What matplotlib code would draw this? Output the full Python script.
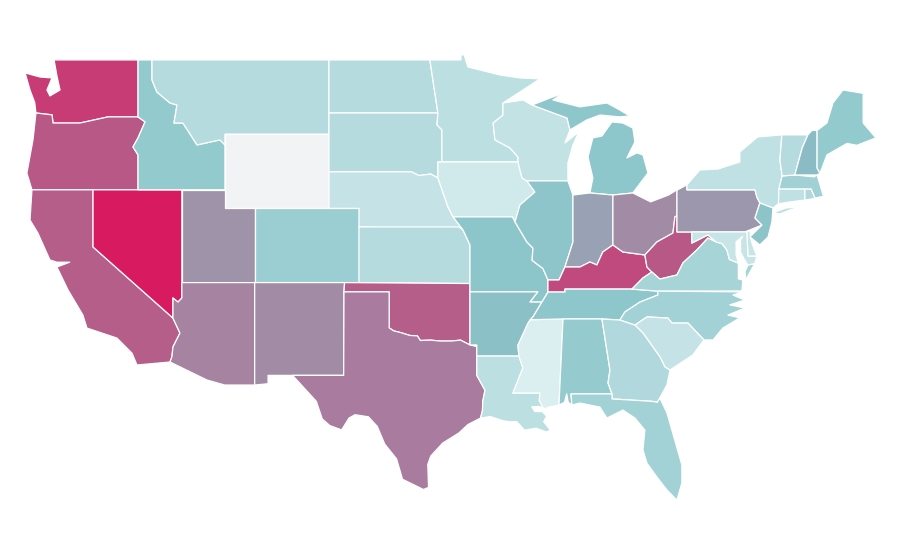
import numpy as np
import matplotlib
matplotlib.use('Agg')
import matplotlib.pyplot as plt
from matplotlib.colors import LinearSegmentedColormap

STATES = ['WA', 'OR', 'CA', 'NV', 'ID', 'MT', 'WY', 'UT', 'AZ', 'CO', 'NM', 'ND', 'SD', 'NE', 'KS', 'OK',
          'TX', 'MN', 'IA', 'MO', 'AR', 'LA', 'WI', 'IL', 'MS', 'MI', 'IN', 'KY', 'TN', 'AL', 'OH', 'WV',
          'VA', 'NC', 'SC', 'GA', 'FL', 'PA', 'NY', 'NJ', 'DE', 'MD', 'CT', 'RI', 'MA', 'VT', 'NH', 'ME']
VALUES = [.90, .82, .80, 1.0, .28, .16, np.nan, .57, .66, .25, .60, .16, .16, .10, .16, .80,
          .70, .13, .06, .31, .37, .13, .11, .32, .02, .30, .50, .86, .30, .27, .60, .82,
          .21, .22, .10, .17, .22, .55, .12, .33, .09, .09, .12, .17, .23, .16, .40, .28]
NO_DATA = '#f2f3f5'

# colour ramp
RAMP = [(0, '#e0f1f3'), (.3, '#8dc7cb'), (.42, '#8bbac4'), (.5, '#99a2b4'), (.6, '#a28ca5'),
        (.7, '#a97d9f'), (.82, '#b85886'), (1, '#d81b60')]

# shared borders, lon/lat
MN_WI = [(-92.34, 46.68), (-92.34, 46.03), (-93.0, 45.6), (-92.88, 44.69), (-91.87, 44.26), (-91.33, 43.77),
         (-91.33, 43.5)]
IA_WI = [(-91.33, 43.5), (-91.06, 42.64), (-90.73, 42.48)]
IA_IL = [(-90.73, 42.48), (-90.19, 41.88), (-91.2, 41.18), (-91.53, 40.27)]
MO_IL = [(-91.53, 40.27), (-90.73, 39.19), (-90.32, 38.86), (-90.38, 38.2), (-89.65, 37.76), (-89.31, 37.14)]
KY_MO = [(-89.31, 37.14), (-89.31, 36.49)]
TN_MO = [(-89.31, 36.49), (-89.72, 35.95)]
TN_AR = [(-89.72, 35.95), (-90.32, 35.15), (-90.5, 35.0)]
MS_AR = [(-90.5, 35.0), (-90.66, 34.8), (-91.33, 33.63), (-91.27, 33.04)]
MS_LA = [(-91.27, 33.04), (-91.0, 32.4), (-91.67, 31.05), (-89.85, 31.05), (-89.9, 30.65), (-89.6, 30.2)]
IL_KY = [(-89.31, 37.14), (-89.18, 37.14), (-88.57, 37.14), (-88.17, 37.84)]
IL_IN = [(-88.17, 37.84), (-87.63, 39.19), (-87.63, 41.72)]
IN_KY = [(-88.17, 37.84), (-87.16, 37.84), (-86.49, 38.11), (-86.02, 37.95), (-85.62, 38.65), (-84.94, 39.03)]
OH_KY = [(-84.94, 39.03), (-84.27, 38.65), (-82.79, 38.49)]
OH_WV = [(-82.79, 38.49), (-81.98, 39.19), (-80.9, 39.67), (-80.77, 40.54), (-80.63, 40.6)]
KY_WV = [(-82.79, 38.49), (-82.65, 37.84), (-82.32, 37.57)]
KY_VA = [(-83.66, 36.65), (-82.92, 37.25), (-82.32, 37.57)]
WV_VA = [(-82.32, 37.57), (-81.78, 37.19), (-80.63, 37.41), (-80.23, 38.06), (-79.29, 38.76), (-78.55, 39.4),
         (-78.0, 39.19)]
WV_MD = [(-78.0, 39.19), (-78.55, 39.57), (-79.63, 39.13), (-79.63, 39.73)]
TN_NC = [(-81.92, 36.54), (-81.92, 36.33), (-83.12, 35.95), (-84.13, 35.42), (-84.47, 34.98)]
NC_SC = [(-83.46, 34.71), (-82.65, 35.15), (-81.24, 35.09), (-80.97, 34.82), (-79.89, 34.82), (-78.82, 33.91)]
SC_GA = [(-81.1, 32.29), (-81.44, 32.45), (-81.78, 33.0), (-82.92, 34.28), (-83.46, 34.71)]
GA_FL = [(-81.78, 30.78), (-81.95, 30.55), (-82.3, 30.6), (-85.0, 30.73)]
AL_GA = [(-85.0, 31.0), (-85.27, 31.59), (-85.14, 32.29), (-85.68, 35.04)]
RED_RIVER = [(-100.0, 34.56), (-99.7, 34.4), (-99.2, 34.3), (-98.6, 34.15), (-98.1, 34.13), (-97.9, 33.88),
             (-97.2, 33.9), (-96.6, 33.85), (-95.8, 33.85), (-95.2, 33.9), (-94.56, 33.64)]
LA_TX = [(-94.1, 33.04), (-94.1, 32.0), (-93.55, 31.2), (-93.7, 30.6), (-93.72, 30.1), (-93.85, 29.7)]
OR_ID = [(-116.9, 45.93), (-116.43, 45.66), (-116.9, 44.8), (-117.24, 44.31), (-116.9, 43.88), (-116.9, 42.0)]
WA_OR = [(-123.77, 46.14), (-122.69, 46.04), (-122.62, 45.6), (-121.95, 45.6), (-120.81, 45.6), (-118.92, 45.93),
         (-116.9, 45.93)]
ID_MT = [(-115.96, 49.0), (-115.96, 47.92), (-115.63, 47.27), (-114.75, 46.68), (-114.28, 46.57), (-114.48, 45.6),
         (-113.88, 45.6), (-112.93, 44.42), (-111.39, 44.69), (-111.05, 44.42)]
CA_AZ = [(-114.55, 35.09), (-114.08, 34.28), (-114.55, 33.53), (-114.62, 33.0), (-114.75, 32.72)]
NV_AZ = [(-113.95, 37.0), (-113.95, 36.17), (-114.21, 35.95), (-114.55, 36.17), (-114.55, 35.09)]
ND_MN = [(-97.26, 49.0), (-96.78, 46.47), (-96.72, 46.14)]
SD_MN = [(-96.72, 46.14), (-96.78, 45.5), (-96.45, 45.23), (-96.45, 43.5)]
SD_IA = [(-96.45, 43.5), (-96.72, 43.5), (-96.72, 42.64)]
SD_NE = [(-96.72, 42.64), (-97.2, 42.85), (-98.0, 42.77), (-98.5, 42.97), (-104.05, 42.97)]
NE_IA = [(-96.72, 42.64), (-96.04, 41.08), (-95.7, 40.54)]
NE_MO = [(-95.7, 40.54), (-95.03, 39.84)]
KS_MO = [(-95.03, 39.84), (-94.56, 39.03), (-94.56, 36.95)]
PA_NJ = [(-75.05, 41.29), (-75.38, 40.48), (-74.91, 40.1), (-76.06, 39.73)]
VT_NH = [(-71.82, 44.96), (-72.2, 44.26), (-72.7, 42.8)]
NY_VT = [(-73.57, 44.96), (-73.7, 43.6), (-73.55, 42.75)]
NH_ME = [(-71.2, 45.2), (-71.2, 43.17), (-71.0, 42.9)]


def rev(border):
    return border[::-1]


OUTLINES = {
    'WA': [[(-122.55, 49.0), (-116.9, 49.0)] + rev(WA_OR) +
           [(-123.85, 46.7), (-124.17, 47.38), (-124.5, 48.3), (-123.5, 48.08), (-122.69, 48.03), (-123.03, 47.38),
            (-122.83, 47.06), (-122.15, 47.38), (-122.36, 48.14), (-122.49, 48.73)]],
    'OR': [WA_OR + OR_ID + [(-124.04, 42.0), (-124.38, 42.9), (-123.97, 44.69)]],
    'CA': [[(-124.04, 42.0), (-119.93, 42.0), (-119.93, 38.92)] + CA_AZ +
           [(-116.97, 32.56), (-117.31, 33.2), (-118.32, 34.01), (-120.34, 34.55), (-120.61, 35.25), (-121.61, 36.6),
            (-122.36, 37.84), (-121.5, 38.1), (-122.36, 38.1), (-122.83, 38.22), (-123.64, 39.67), (-124.17, 40.37)]],
    'NV': [[(-119.93, 42.0), (-113.95, 42.0)] + NV_AZ + [(-119.93, 38.92)]],
    'ID': [[(-116.9, 49.0)] + ID_MT + [(-111.05, 42.0)] + rev(OR_ID)],
    'MT': [[(-115.96, 49.0), (-104.05, 49.0), (-104.05, 45.0), (-111.05, 45.0)] + rev(ID_MT)[:-1]],
    'WY': [[(-111.05, 45.0), (-104.05, 45.0), (-104.05, 41.0), (-111.05, 41.0)]],
    'UT': [[(-113.95, 42.0), (-111.05, 42.0), (-111.05, 41.0), (-109.05, 41.0), (-109.05, 37.0), (-113.95, 37.0)]],
    'AZ': [[(-113.95, 37.0), (-109.05, 37.0), (-109.05, 31.48), (-111.07, 31.48), (-112.26, 31.75)] + rev(CA_AZ) +
           rev(NV_AZ)],
    'CO': [[(-109.05, 41.0), (-102.03, 41.0), (-102.03, 37.0), (-109.05, 37.0)]],
    'NM': [[(-109.05, 37.0), (-103.0, 37.0), (-103.04, 36.5), (-103.06, 32.0), (-106.5, 32.0), (-108.15, 32.0),
            (-108.15, 31.55), (-109.05, 31.48)]],
    'ND': [[(-104.05, 49.0)] + ND_MN + [(-104.05, 46.14)]],
    'SD': [[(-104.05, 46.14)] + SD_MN + SD_IA + SD_NE],
    'NE': [[(-104.05, 42.97)] + rev(SD_NE) + NE_IA + NE_MO + [(-102.03, 40.0), (-102.03, 41.0), (-104.05, 41.0)]],
    'KS': [[(-102.03, 40.0), (-95.3, 40.0)] + KS_MO + [(-102.03, 37.0)]],
    'OK': [[(-103.0, 37.0), (-94.56, 36.95), (-94.56, 35.9)] + rev(RED_RIVER) + [(-100.0, 36.5), (-103.04, 36.5)]],
    'TX': [[(-103.04, 36.5), (-100.0, 36.5)] + RED_RIVER + [(-94.1, 33.55)] + LA_TX +
           [(-94.7, 29.35), (-95.3, 28.9), (-96.4, 28.35), (-97.2, 27.65), (-97.4, 27.2), (-97.35, 25.96),
            (-97.7, 25.85), (-98.2, 26.05), (-99.1, 26.4), (-99.5, 27.5), (-100.3, 28.3), (-100.8, 29.25),
            (-101.4, 29.77), (-102.3, 29.88), (-102.7, 29.7), (-103.2, 29.06), (-104.0, 29.3), (-104.5, 29.65),
            (-104.9, 30.6), (-106.5, 32.0), (-103.06, 32.0)]],
    'MN': [[(-97.26, 49.0), (-95.17, 49.0), (-95.17, 49.27), (-94.95, 49.27), (-94.7, 48.62), (-92.55, 48.19),
            (-91.2, 48.03), (-89.85, 47.98), (-91.2, 47.27)] + MN_WI + rev(SD_MN) + rev(ND_MN)[:-1]],
    'IA': [[(-96.72, 43.5)] + IA_WI + IA_IL + [(-91.7, 40.54)] + rev(NE_IA)],
    'MO': [[(-95.7, 40.54), (-91.7, 40.54)] + MO_IL + KY_MO + TN_MO + [(-90.53, 35.95), (-90.0, 36.5), (-94.56, 36.5)] +
           rev(KS_MO) + rev(NE_MO)[:-1]],
    'AR': [[(-94.56, 36.5), (-90.0, 36.5), (-90.53, 35.95)] + TN_AR + MS_AR +
           [(-94.1, 33.04), (-94.1, 33.64), (-94.56, 33.64), (-94.56, 35.9)]],
    'LA': [LA_TX[:1] + MS_LA +
           [(-89.9, 30.33), (-90.4, 30.3), (-90.2, 30.05), (-89.7, 30.05), (-89.4, 29.8), (-89.6, 29.5),
            (-89.15, 29.05), (-89.4, 28.95), (-90.1, 29.15), (-90.9, 29.05), (-91.4, 29.5), (-91.85, 29.5),
            (-92.3, 29.55), (-93.2, 29.78)] + rev(LA_TX)],
    'WI': [[(-92.34, 46.68), (-90.99, 46.84), (-90.39, 46.57), (-88.03, 45.87), (-87.83, 45.23), (-88.17, 44.53),
            (-87.23, 45.12), (-87.63, 44.42), (-87.97, 43.45), (-87.97, 42.48)] + rev(IA_WI) + rev(MN_WI)],
    'IL': [[(-90.73, 42.48), (-87.97, 42.48)] + rev(IL_IN) + rev(IL_KY) + rev(MO_IL) + rev(IA_IL)],
    'MS': [[(-90.5, 35.0), (-88.3, 35.04), (-88.57, 30.4), (-89.2, 30.3)] + rev(MS_LA) + rev(MS_AR)],
    'MI': [[(-90.39, 46.57), (-88.64, 47.11), (-87.97, 47.38), (-88.98, 46.84), (-87.16, 46.47), (-85.34, 46.68),
            (-84.47, 46.3), (-83.8, 45.98), (-84.47, 45.93), (-85.81, 46.03), (-86.69, 45.77), (-87.83, 45.23),
            (-88.03, 45.87)],
           [(-86.49, 41.83), (-84.94, 41.72), (-83.6, 41.83), (-82.58, 42.91), (-82.92, 43.88), (-83.33, 43.99),
            (-84.0, 43.72), (-83.46, 44.58), (-83.6, 45.33), (-84.27, 45.6), (-85.01, 45.66), (-85.68, 44.9),
            (-86.29, 44.8), (-86.62, 43.77), (-86.29, 42.64)],
           [(-89.2, 47.85), (-88.5, 48.15), (-88.95, 48.0)]],
    'IN': [[(-87.63, 41.72), (-86.49, 41.83), (-84.94, 41.72)] + rev(IN_KY) + IL_IN[1:]],
    'KY': [[(-89.31, 36.49)] + rev(KY_MO)[1:] + IL_KY[1:] + IN_KY[1:] + OH_KY[1:] + KY_WV[1:] + rev(KY_VA)[1:] +
           [(-88.17, 36.65), (-88.17, 36.49)]],
    'TN': [[(-89.31, 36.49), (-88.17, 36.49), (-88.17, 36.65), (-83.66, 36.65)] + TN_NC +
           [(-85.68, 35.04), (-88.3, 35.04)] + rev(TN_AR)],
    'AL': [[(-88.3, 35.04)] + rev(AL_GA) +
           [(-87.76, 31.0), (-87.7, 30.4), (-87.95, 30.55), (-88.05, 31.0), (-88.2, 30.55), (-88.57, 30.4)]],
    'OH': [[(-84.94, 41.72), (-83.6, 41.83), (-82.4, 41.35), (-81.2, 41.72), (-80.63, 42.0)] + rev(OH_WV) + rev(OH_KY)],
    'WV': [KY_WV + WV_VA + WV_MD + [(-80.63, 39.73)] + rev(OH_WV)],
    'VA': [KY_VA + WV_VA[1:] +
           [(-77.6, 39.1), (-77.27, 38.76), (-77.1, 38.25), (-76.5, 38.05), (-76.5, 37.6), (-76.5, 37.2),
            (-76.2, 37.14), (-76.26, 36.55), (-81.92, 36.54)],
           [(-75.85, 37.95), (-75.4, 38.02), (-76.0, 37.15), (-76.05, 37.6)]],
    'NC': [[(-76.19, 36.5), (-81.92, 36.54)] + TN_NC[1:] + NC_SC +
           [(-78.2, 33.91), (-77.54, 34.55), (-76.4, 35.1), (-77.2, 35.25), (-76.06, 35.63), (-77.07, 35.8),
            (-76.06, 36.06), (-76.86, 36.33)]],
    'SC': [NC_SC + [(-79.56, 33.1)] + SC_GA],
    'GA': [[(-85.68, 35.04), (-84.47, 34.98)] + rev(SC_GA) + [(-81.3, 31.5)] + GA_FL + AL_GA],
    'FL': [[(-87.76, 31.0), (-85.0, 31.0)] + rev(GA_FL) +
           [(-81.3, 29.97), (-80.3, 27.17), (-80.3, 26.2), (-80.63, 25.28), (-81.3, 25.82), (-81.98, 26.52),
            (-82.65, 27.27), (-82.92, 27.98), (-82.79, 29.05), (-83.46, 29.7), (-84.27, 30.13), (-85.34, 29.7),
            (-85.82, 30.29), (-87.16, 30.51), (-87.7, 30.4)]],
    'PA': [[(-80.63, 41.98), (-79.96, 42.27), (-79.96, 42.0), (-75.38, 42.0), (-75.25, 41.6)] + PA_NJ +
           [(-80.63, 39.73)]],
    'NY': [[(-79.96, 42.0), (-79.96, 42.27), (-79.09, 43.07), (-77.87, 43.12), (-76.4, 43.5), (-76.4, 44.04),
            (-75.2, 44.85), (-73.57, 44.96)] + NY_VT[1:] +
           [(-73.75, 42.05), (-73.8, 41.25), (-74.17, 41.02), (-75.05, 41.29), (-75.25, 41.6), (-75.38, 42.0)],
           [(-74.2, 40.75), (-73.7, 40.7), (-72.9, 40.95), (-72.2, 41.1), (-73.3, 41.02)]],
    'NJ': [[(-75.05, 41.29), (-74.17, 41.02), (-74.24, 40.27), (-74.5, 39.46), (-75.05, 39.03), (-75.72, 39.46),
            (-74.91, 40.1), (-75.38, 40.48)]],
    'DE': [[(-75.93, 39.73), (-75.7, 39.8), (-75.7, 39.45), (-75.55, 39.05), (-75.25, 38.42), (-75.85, 38.42)]],
    'MD': [[(-79.63, 39.73), (-75.93, 39.73), (-75.85, 38.42), (-75.25, 38.42), (-75.4, 38.02), (-75.85, 37.95),
            (-76.1, 38.25), (-76.35, 38.65), (-76.35, 39.3), (-76.2, 39.5), (-76.65, 39.2), (-76.65, 38.5),
            (-76.5, 38.05), (-77.1, 38.25), (-77.27, 38.76), (-77.6, 39.1)] + WV_MD[:-1]],
    'CT': [[(-73.77, 42.05), (-72.02, 42.05), (-72.02, 41.45), (-73.0, 41.35), (-73.8, 41.25)]],
    'RI': [[(-72.02, 42.05), (-71.6, 42.05), (-71.34, 41.56), (-71.6, 41.5), (-72.02, 41.45)]],
    'MA': [[(-73.77, 42.05), (-73.55, 42.75), (-72.7, 42.8), (-71.4, 42.7), (-71.2, 42.8), (-71.0, 42.26),
            (-70.8, 41.72), (-70.34, 41.72), (-71.34, 41.56), (-71.6, 42.05)]],
    'VT': [[(-73.57, 44.96)] + VT_NH + rev(NY_VT)[:-1]],
    'NH': [[(-71.82, 44.96), (-71.55, 45.2)] + NH_ME[:3] + [(-71.2, 42.8)] + rev(VT_NH)[:-1]],
    'ME': [[(-71.2, 45.2), (-70.54, 45.6), (-70.13, 46.68), (-69.46, 47.38), (-68.1, 47.2), (-68.1, 45.6),
            (-67.24, 44.8), (-68.52, 44.4), (-69.19, 44.5), (-70.54, 43.88)] + rev(NH_ME)[:-1]],
}

cmap = LinearSegmentedColormap.from_list('rate', RAMP)

fig = plt.figure(figsize=(9, 5.6), dpi=100)
ax = fig.add_axes([0, 0, 1, 1])

for state, value in zip(STATES, VALUES):
    colour = NO_DATA if np.isnan(value) else cmap(value)
    for part in OUTLINES[state]:
        lons, lats = zip(*part)
        ax.fill(lons, lats, facecolor=colour, edgecolor='white', linewidth=0.9, joinstyle='round')

ax.set_xlim(-126.19, -65.62)
ax.set_ylim(22.05, 52.23)
ax.axis('off')

fig.savefig('out.png', dpi=100, facecolor='white')
